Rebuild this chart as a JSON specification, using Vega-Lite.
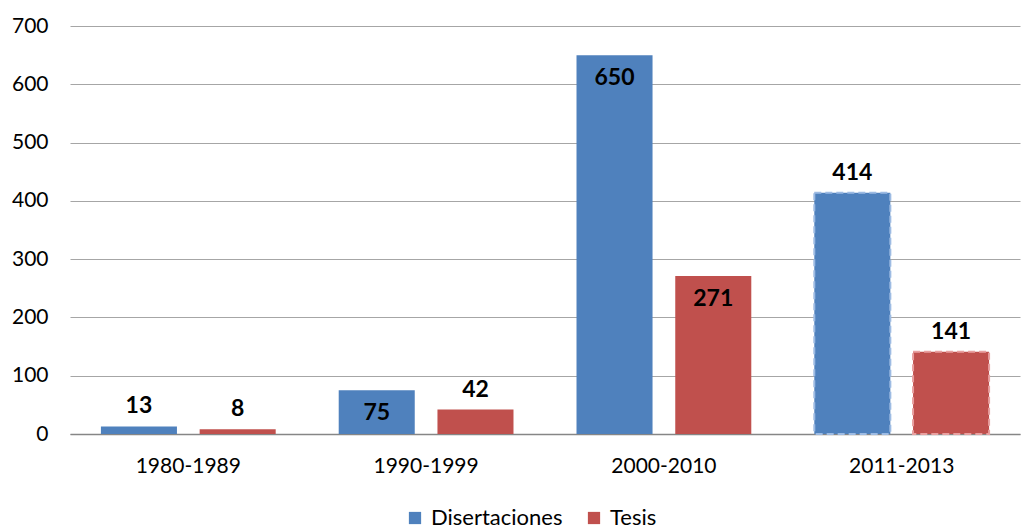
{
  "$schema": "https://vega.github.io/schema/vega-lite/v6.json",
  "autosize": "none",
  "width": 950,
  "height": 408,
  "padding": {"left": 70, "top": 26, "right": 2, "bottom": 95},
  "background": "white",
  "config": {
    "font": "Lato",
    "view": {"stroke": null},
    "axis": {"labelFont": "Lato", "labelColor": "#000000"},
    "legend": {"labelFont": "Lato"}
  },
  "data": {
    "values": [
      {"periodo": "1980-1989", "serie": "Disertaciones", "valor": 13, "pos": "arriba"},
      {"periodo": "1980-1989", "serie": "Tesis", "valor": 8, "pos": "arriba"},
      {"periodo": "1990-1999", "serie": "Disertaciones", "valor": 75, "pos": "dentro"},
      {"periodo": "1990-1999", "serie": "Tesis", "valor": 42, "pos": "arriba"},
      {"periodo": "2000-2010", "serie": "Disertaciones", "valor": 650, "pos": "dentro"},
      {"periodo": "2000-2010", "serie": "Tesis", "valor": 271, "pos": "dentro"},
      {"periodo": "2011-2013", "serie": "Disertaciones", "valor": 414, "pos": "arriba"},
      {"periodo": "2011-2013", "serie": "Tesis", "valor": 141, "pos": "arriba"}
    ]
  },
  "encoding": {
    "x": {
      "field": "periodo", "type": "nominal", "title": null,
      "scale": {"paddingInner": 0.265, "paddingOuter": 0.13},
      "axis": {"labelAngle": 0, "labelFontSize": 21, "labelPadding": 21, "ticks": false, "domainColor": "#868686", "domainWidth": 1.5}
    },
    "xOffset": {"field": "serie", "type": "nominal", "scale": {"paddingInner": 0.23, "paddingOuter": 0}},
    "y": {
      "field": "valor", "type": "quantitative", "title": null,
      "scale": {"domain": [0, 700], "nice": false},
      "axis": {"values": [0, 100, 200, 300, 400, 500, 600, 700], "labelFontSize": 21, "labelPadding": 22, "ticks": false, "domain": false, "gridColor": "#a6a6a6", "gridWidth": 1.2}
    }
  },
  "layer": [
    {
      "mark": {"type": "bar", "strokeWidth": 2},
      "encoding": {
        "color": {
          "field": "serie", "type": "nominal",
          "scale": {"domain": ["Disertaciones", "Tesis"], "range": ["#4F81BD", "#C0504D"]},
          "legend": {"title": null, "orient": "none", "legendX": 334, "legendY": 481, "direction": "horizontal", "symbolType": "square", "symbolSize": 150, "labelFontSize": 22, "columnPadding": 20, "labelOffset": 5, "symbolStrokeWidth": 0}
        },
        "stroke": {
          "condition": [
            {"test": "datum.periodo == '2011-2013' && datum.serie == 'Disertaciones'", "value": "#9dbbe3"},
            {"test": "datum.periodo == '2011-2013' && datum.serie == 'Tesis'", "value": "#e8a0a0"}
          ],
          "value": null
        },
        "strokeDash": {
          "condition": {"test": "datum.periodo == '2011-2013'", "value": [7, 4]},
          "value": [1, 0]
        }
      }
    },
    {
      "transform": [{"filter": "datum.pos == 'arriba'"}],
      "mark": {"type": "text", "fontSize": 23, "fontWeight": "bold", "color": "#000000", "baseline": "middle", "dy": -20},
      "encoding": {"text": {"field": "valor", "type": "quantitative"}}
    },
    {
      "transform": [{"filter": "datum.pos == 'dentro'"}],
      "mark": {"type": "text", "fontSize": 23, "fontWeight": "bold", "color": "#000000", "baseline": "middle", "dy": 23},
      "encoding": {"text": {"field": "valor", "type": "quantitative"}}
    }
  ]
}
